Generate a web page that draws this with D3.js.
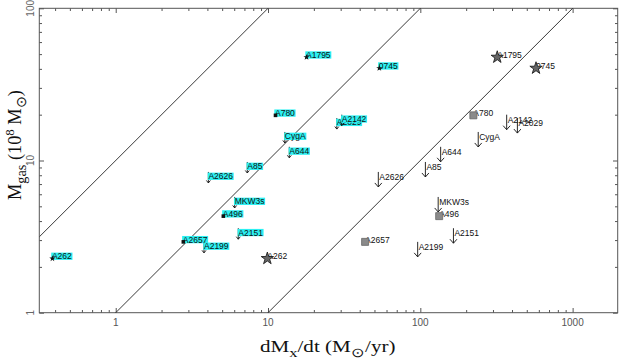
<!DOCTYPE html>
<html><head><meta charset="utf-8">
<script src="https://cdn.jsdelivr.net/npm/d3@7"></script>
<style>body{margin:0;background:#fff} svg{display:block}</style>
</head><body><svg id="c" width="619" height="359"></svg>
<script>
const names = ["A1795","0745","A780","A2029","A2142","CygA","A644","A85","A2626","MKW3s","A496","A2151","A2657","A2199","A262"];
const mgas = [47.7,40.4,19.8,19.0,20.0,15.4,12.3,9.78,8.41,5.76,4.31,3.59,2.92,2.92,2.27];
const kinds = ["star","star","square","limit","limit","limit","limit","limit","limit","limit","square","limit","square","limit","star"];
const mdotX = [320,575,223,434,369,240,136,108,53.0,131,133,165,43.4,96.1,9.9];
const mdotSpec = [17.9,53.8,11.2,28.3,30.5,12.9,13.8,7.31,4.06,6.04,5.09,6.38,2.78,3.80,0.384];
const ratios = [10,1,0.1];
const xTickVals = [1,10,100,1000];
const yTickVals = [1,10,100];

const L=39.3, R=617.7, T=8.3, B=312.7;
const svg = d3.select("#c");
const x = d3.scaleLog().domain([0.315,1977]).range([L,R]);
const y = d3.scaleLog().domain([1,100]).range([B,T]);

svg.append("defs").append("clipPath").attr("id","clip")
  .append("rect").attr("x",L).attr("y",T).attr("width",R-L).attr("height",B-T);

// ticks
const isMajor = v => Math.abs(Math.log10(v)-Math.round(Math.log10(v)))<1e-6;
const xMinor = x.ticks().filter(v=>!isMajor(v));
const yMinor = y.ticks().filter(v=>!isMajor(v));
function styleAxis(g){ g.select(".domain").remove(); g.selectAll("line").attr("stroke","#555"); }
svg.append("g").attr("transform",`translate(0,${B})`).call(d3.axisBottom(x).tickValues(xMinor).tickSize(-2.7).tickFormat("")).call(styleAxis);
svg.append("g").attr("transform",`translate(0,${B})`).call(d3.axisBottom(x).tickValues(xTickVals).tickSize(-4.7).tickFormat("")).call(styleAxis);
svg.append("g").attr("transform",`translate(0,${T})`).call(d3.axisTop(x).tickValues(xMinor).tickSize(-2.7).tickFormat("")).call(styleAxis);
svg.append("g").attr("transform",`translate(0,${T})`).call(d3.axisTop(x).tickValues(xTickVals).tickSize(-4.7).tickFormat("")).call(styleAxis);
svg.append("g").attr("transform",`translate(${L},0)`).call(d3.axisLeft(y).tickValues(yMinor).tickSize(-2.7).tickFormat("")).call(styleAxis);
svg.append("g").attr("transform",`translate(${L},0)`).call(d3.axisLeft(y).tickValues(yTickVals).tickSize(-4.7).tickFormat("")).call(styleAxis);
svg.append("g").attr("transform",`translate(${R},0)`).call(d3.axisRight(y).tickValues(yMinor).tickSize(-2.7).tickFormat("")).call(styleAxis);
svg.append("g").attr("transform",`translate(${R},0)`).call(d3.axisRight(y).tickValues(yTickVals).tickSize(-4.7).tickFormat("")).call(styleAxis);

svg.append("rect").attr("x",L).attr("y",T).attr("width",R-L).attr("height",B-T)
  .attr("fill","none").attr("stroke","#555").attr("stroke-width",1);

// tick labels
svg.append("g").selectAll("text").data(xTickVals).join("text")
  .attr("x",d=>x(d)).attr("y",325.5).attr("text-anchor","middle")
  .attr("font-family","Liberation Sans, Arial, sans-serif").attr("font-size",10).attr("fill","#555")
  .text(d=>d);
svg.append("g").selectAll("text").data(yTickVals).join("text")
  .attr("transform",d=>`translate(33.5,${y(d)}) rotate(-90)`).attr("text-anchor","middle")
  .attr("font-family","Liberation Sans, Arial, sans-serif").attr("font-size",10).attr("fill","#666")
  .text(d=>d);

// reference lines
const lg = svg.append("g").attr("clip-path","url(#clip)");
const dom = x.domain();
lg.selectAll("line").data(ratios).join("line")
  .attr("x1",x(dom[0])).attr("y1",r=>y(r*dom[0]))
  .attr("x2",x(dom[1])).attr("y2",r=>y(r*dom[1]))
  .attr("stroke","#222").attr("stroke-width",0.9);

const font = "Liberation Sans, Arial, Helvetica, sans-serif";
const starBig = d3.symbol(d3.symbolStar, 47);
const starSmall = d3.symbol(d3.symbolStar, 12);
const sqBig = d3.symbol(d3.symbolSquare, 49);
const sqSmall = d3.symbol(d3.symbolSquare, 13);

// right group (X-ray)
const rg = svg.append("g");
names.forEach((n,i)=>{
  const px = x(mdotX[i]), py = y(mgas[i]);
  if(kinds[i]==="limit"){
    rg.append("path").attr("d",`M${px},${py}V${py+15}M${px-3.5},${py+11}L${px},${py+15}L${px+3.5},${py+11}`)
      .attr("fill","none").attr("stroke","#111").attr("stroke-width",0.9);
    rg.append("text").attr("x",px+1).attr("y",py+8).text(n)
      .attr("font-family",font).attr("font-size",8.5).attr("fill","#111");
  } else {
    rg.append("text").attr("x",px).attr("y",py+0.7).text(n)
      .attr("font-family",font).attr("font-size",8.5).attr("fill","#111");
    if(kinds[i]==="star"){
      rg.append("path").attr("d",starBig()).attr("transform",`translate(${px},${py})`)
        .attr("fill","#666").attr("stroke","#111").attr("stroke-width",0.8);
    } else {
      rg.append("path").attr("d",sqBig()).attr("transform",`translate(${px},${py})`)
        .attr("fill","#8a8a8a").attr("stroke","#666").attr("stroke-width",0.8);
    }
  }
});

// left group (spectroscopic), cyan highlighted labels
const cg = svg.append("g");
names.forEach((n,i)=>{
  const px = x(mdotSpec[i]), py = y(mgas[i]);
  const lim = kinds[i]==="limit";
  if(lim){
    cg.append("path").attr("d",`M${px},${py}V${py+11}M${px-2},${py+8.5}L${px},${py+11}L${px+2},${py+8.5}`)
      .attr("fill","none").attr("stroke","#111").attr("stroke-width",0.9);
  }
  const base = lim ? py+7.3 : py+0.7;
  const tx = lim ? px : px-0.5;
  const bg = cg.append("rect");
  const t = cg.append("text").attr("x",tx).attr("y",base).text(n)
      .attr("font-family",font).attr("font-size",8.5).attr("fill","#111");
  const w = t.node().getComputedTextLength();
  bg.attr("x",tx-0.7).attr("y",base-6.6).attr("width",w+1.4).attr("height",7.3).attr("fill","#2cf0f2");
  if(!lim){
    cg.append("path").attr("d",(kinds[i]==="star"?starSmall:sqSmall)()).attr("transform",`translate(${px},${py})`)
      .attr("fill","#111");
  }
});

// axis titles
function title(parts, size){
  const t = svg.append("text").attr("font-family","Liberation Serif, Times New Roman, serif").attr("font-size",size).attr("fill","#111");
  parts.forEach(p=>{
    const ts = t.append("tspan").text(p[0]);
    if(p[1]==="sub") ts.attr("dy",size*0.3).attr("font-size",size*0.78);
    if(p[1]==="sup") ts.attr("dy",-size*0.38).attr("font-size",size*0.7);
    if(p[1]==="up") ts.attr("dy",-size*0.3);
    if(p[1]==="down") ts.attr("dy",size*0.38);
  });
  return t;
}
const xt = title([["dM"],["x","sub"],["/dt (M","up"],["⊙","sub"],["/yr)","up"]],17);
let bb = xt.node().getBBox();
let s = (395-260)/bb.width;
xt.attr("transform",`translate(${260 - bb.x*s},352) scale(${s},1)`);

const yt = title([["M"],["gas","sub"],[" (10","up"],["8","sup"],[" M","down"],["⊙","sub"],[")","up"]],18);
bb = yt.node().getBBox();
s = (200-90)/bb.width;
yt.attr("transform",`translate(20.5,200) rotate(-90) translate(${-bb.x*s},0) scale(${s},1)`);
</script></body></html>
